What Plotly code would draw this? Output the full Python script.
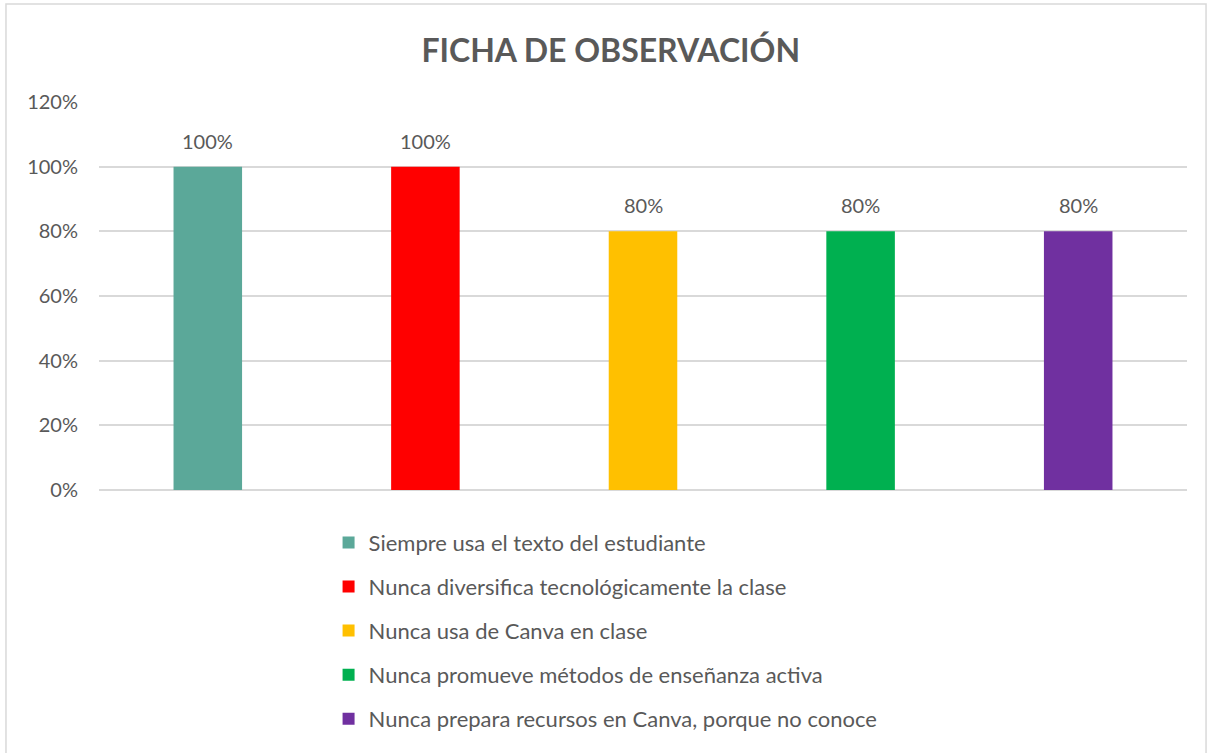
import plotly.graph_objects as go

series_names = [
    "Siempre usa el texto del estudiante",
    "Nunca diversifica tecnológicamente la clase",
    "Nunca usa de Canva en clase",
    "Nunca promueve métodos de enseñanza activa",
    "Nunca prepara recursos en Canva, porque no conoce",
]
values = [1.00, 1.00, 0.80, 0.80, 0.80]
colors = ["#5BA899", "#FF0000", "#FFC000", "#00B050", "#7030A0"]
y_ticks = [0, 0.2, 0.4, 0.6, 0.8, 1.0, 1.2]

FONT = "Lato, 'Liberation Sans', sans-serif"
GREY = "#595959"

fig = go.Figure()
for i, (name, v, c) in enumerate(zip(series_names, values, colors)):
    fig.add_trace(go.Bar(
        x=[i], y=[v], name=name, marker=dict(color=c, line=dict(width=0)),
        width=0.315, legendgroup=f"g{i}",
    ))
    fig.add_annotation(x=i, y=v, text=f"{v:.0%}", showarrow=False,
                       yanchor="bottom", yshift=12,
                       font=dict(family=FONT, size=20, color=GREY))

fig.add_shape(type="rect", xref="paper", yref="paper",
              x0=-0.0855, x1=1.0175, y0=-0.75, y1=1.2526,
              line=dict(color="#D9D9D9", width=1.5), fillcolor="rgba(0,0,0,0)", layer="below")

fig.update_layout(
    width=1207, height=753,
    margin=dict(l=99, r=20, t=102, b=263, autoexpand=False),
    paper_bgcolor="white", plot_bgcolor="white",
    barmode="overlay",
    title=dict(text="<b>FICHA DE OBSERVACIÓN</b>", x=0.506, xanchor="center",
               y=0.932, yanchor="middle",
               font=dict(family=FONT, size=32, color=GREY)),
    xaxis=dict(range=[-0.5, 4.5], showticklabels=False, showgrid=False,
               zeroline=False, showline=False, fixedrange=True),
    yaxis=dict(range=[0, 1.2], tickvals=y_ticks, tickformat=".0%",
               showgrid=True, gridcolor="#D9D9D9", gridwidth=1.5,
               zeroline=True, zerolinecolor="#D9D9D9", zerolinewidth=1.5,
               showline=False, ticks="", ticklabelstandoff=20,
               tickfont=dict(family=FONT, size=20, color=GREY)),
    legend=dict(orientation="v", x=0.211, xanchor="left", y=-0.0815, yanchor="top",
                traceorder="grouped", tracegroupgap=12.5,
                font=dict(family=FONT, size=22, color=GREY),
                bgcolor="rgba(0,0,0,0)"),
    showlegend=True,
)

fig.write_html("out.html", config={"displayModeBar": False},
               post_script="document.body.style.margin='0';")
